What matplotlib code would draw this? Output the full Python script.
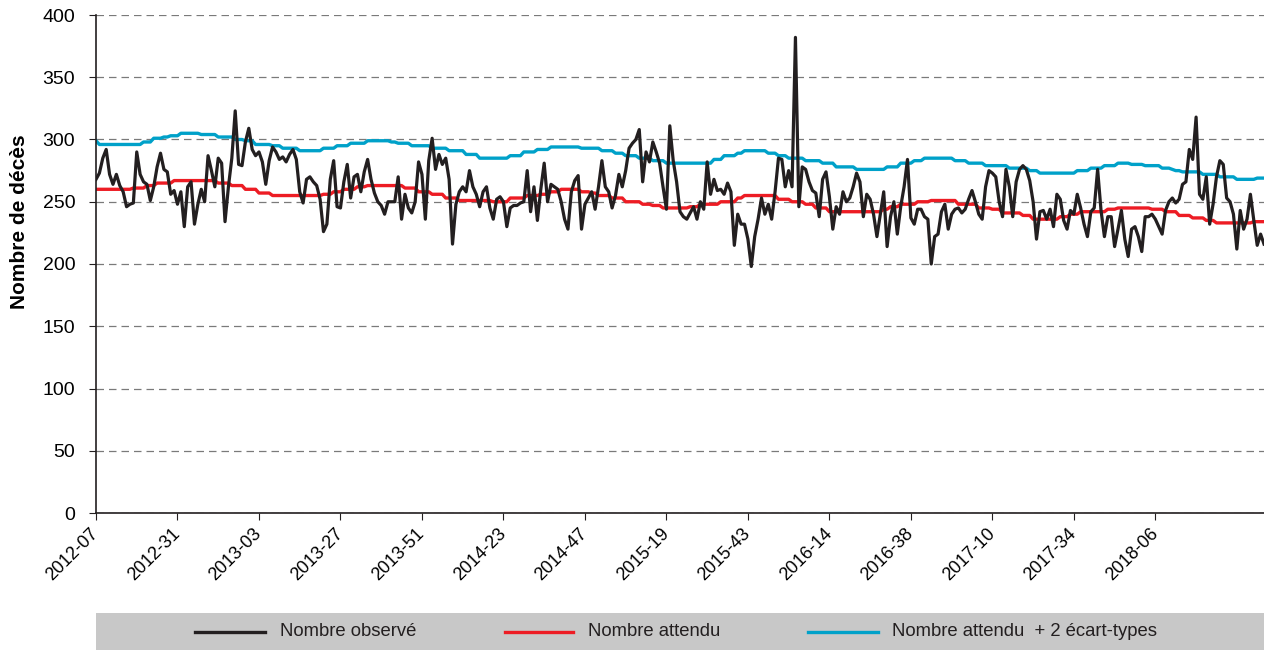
import numpy as np
import matplotlib
matplotlib.use("Agg")
import matplotlib.pyplot as plt
from matplotlib.lines import Line2D
from matplotlib.patches import Rectangle

plt.rcParams['font.family'] = ['Liberation Sans', 'DejaVu Sans']

tick_labels = ['2012-07', '2012-31', '2013-03', '2013-27', '2013-51', '2014-23', '2014-47',
               '2015-19', '2015-43', '2016-14', '2016-38', '2017-10', '2017-34', '2018-06']

observed = [
    268, 273, 285, 292, 272, 264, 272, 263, 258, 246,
    248, 249, 290, 272, 266, 264, 251, 262, 278, 289,
    276, 274, 256, 259, 248, 258, 230, 262, 266, 232,
    248, 260, 250, 287, 275, 262, 285, 281, 234, 262,
    285, 323, 280, 279, 298, 309, 292, 287, 290, 282,
    264, 283, 294, 290, 284, 286, 282, 288, 292, 284,
    258, 249, 268, 270, 266, 263, 252, 226, 232, 268,
    283, 246, 245, 266, 280, 253, 270, 272, 258, 274,
    284, 268, 257, 250, 247, 240, 250, 250, 250, 270,
    236, 256, 245, 241, 250, 282, 272, 236, 283, 301,
    276, 288, 280, 285, 268, 216, 248, 258, 262, 258,
    275, 262, 256, 246, 258, 262, 245, 236, 252, 254,
    250, 230, 245, 247, 247, 249, 250, 275, 242, 262,
    235, 260, 281, 250, 264, 262, 260, 250, 236, 228,
    258, 267, 271, 228, 248, 253, 258, 244, 262, 283,
    262, 258, 245, 255, 272, 262, 275, 293, 297, 300,
    308, 266, 290, 282, 298, 290, 281, 262, 244, 311,
    283, 266, 242, 238, 236, 241, 246, 236, 250, 244,
    282, 256, 268, 259, 260, 256, 265, 258, 215, 240,
    232, 232, 220, 198, 222, 236, 253, 240, 248, 236,
    258, 285, 284, 262, 275, 262, 382, 246, 278, 276,
    266, 259, 257, 238, 268, 274, 254, 228, 246, 240,
    258, 250, 253, 262, 273, 266, 238, 256, 252, 240,
    222, 240, 258, 214, 238, 250, 224, 246, 262, 284,
    237, 232, 244, 244, 238, 236, 200, 222, 224, 242,
    248, 228, 240, 244, 245, 241, 244, 252, 259, 250,
    240, 236, 262, 275, 273, 270, 250, 238, 276, 262,
    238, 266, 276, 279, 276, 267, 250, 220, 242, 243,
    236, 244, 230, 256, 252, 235, 228, 243, 240, 256,
    245, 232, 222, 242, 245, 276, 243, 222, 238, 238,
    214, 228, 243, 220, 206, 228, 230, 222, 210, 238,
    238, 240, 236, 230, 224, 243, 250, 253, 249, 252,
    264, 266, 292, 284, 318, 256, 252, 270, 232, 248,
    270, 283, 280, 253, 250, 240, 212, 243, 228, 236,
    256, 235, 215, 224, 216,
]

expected = [
    260, 260, 260, 260, 260, 260, 260, 260, 260, 260,
    260, 261, 261, 261, 261, 263, 263, 263, 265, 265,
    265, 265, 265, 267, 267, 267, 267, 267, 267, 267,
    267, 267, 267, 267, 267, 267, 265, 265, 265, 265,
    263, 263, 263, 263, 260, 260, 260, 260, 257, 257,
    257, 257, 255, 255, 255, 255, 255, 255, 255, 255,
    255, 255, 255, 255, 255, 255, 255, 256, 256, 256,
    258, 258, 258, 260, 260, 260, 260, 262, 262, 262,
    263, 263, 263, 263, 263, 263, 263, 263, 263, 263,
    263, 261, 261, 261, 261, 258, 258, 258, 258, 256,
    256, 256, 256, 253, 253, 253, 253, 251, 251, 251,
    251, 251, 251, 251, 251, 251, 251, 250, 250, 250,
    250, 250, 253, 253, 253, 253, 253, 255, 255, 255,
    255, 256, 256, 256, 258, 258, 258, 260, 260, 260,
    260, 260, 260, 258, 258, 258, 257, 257, 255, 255,
    255, 255, 253, 253, 253, 253, 250, 250, 250, 250,
    250, 248, 248, 248, 247, 247, 247, 245, 245, 245,
    245, 245, 245, 245, 245, 246, 246, 246, 248, 248,
    248, 248, 248, 248, 250, 250, 250, 250, 250, 253,
    253, 255, 255, 255, 255, 255, 255, 255, 255, 255,
    255, 252, 252, 252, 252, 250, 250, 250, 250, 248,
    248, 248, 245, 245, 245, 245, 242, 242, 242, 242,
    242, 242, 242, 242, 242, 242, 242, 242, 242, 242,
    242, 242, 244, 244, 246, 246, 246, 248, 248, 248,
    248, 248, 250, 250, 250, 250, 251, 251, 251, 251,
    251, 251, 251, 251, 248, 248, 248, 248, 248, 248,
    245, 245, 245, 245, 244, 244, 244, 241, 241, 241,
    241, 241, 241, 239, 239, 239, 236, 236, 236, 236,
    236, 236, 236, 236, 238, 238, 238, 240, 240, 240,
    242, 242, 242, 242, 242, 242, 242, 242, 244, 244,
    244, 245, 245, 245, 245, 245, 245, 245, 245, 245,
    245, 244, 244, 244, 244, 242, 242, 242, 242, 239,
    239, 239, 239, 237, 237, 237, 237, 235, 235, 235,
    233, 233, 233, 233, 233, 233, 233, 233, 233, 233,
    233, 234, 234, 234, 234,
]

plus_2sd = [
    299, 296, 296, 296, 296, 296, 296, 296, 296, 296,
    296, 296, 296, 296, 298, 298, 298, 301, 301, 301,
    302, 302, 303, 303, 303, 305, 305, 305, 305, 305,
    305, 304, 304, 304, 304, 304, 302, 302, 302, 302,
    302, 300, 300, 300, 299, 299, 299, 296, 296, 296,
    296, 296, 295, 295, 295, 293, 293, 293, 293, 293,
    291, 291, 291, 291, 291, 291, 291, 293, 293, 293,
    293, 295, 295, 295, 295, 297, 297, 297, 297, 297,
    299, 299, 299, 299, 299, 299, 299, 298, 298, 297,
    297, 297, 297, 295, 295, 295, 295, 295, 295, 293,
    293, 293, 293, 293, 291, 291, 291, 291, 291, 288,
    288, 288, 288, 285, 285, 285, 285, 285, 285, 285,
    285, 285, 287, 287, 287, 287, 290, 290, 290, 290,
    292, 292, 292, 292, 294, 294, 294, 294, 294, 294,
    294, 294, 294, 293, 293, 293, 293, 293, 293, 291,
    291, 291, 291, 289, 289, 289, 287, 287, 287, 287,
    285, 285, 285, 285, 283, 283, 283, 283, 281, 281,
    281, 281, 281, 281, 281, 281, 281, 281, 281, 281,
    281, 281, 284, 284, 284, 287, 287, 287, 287, 289,
    289, 291, 291, 291, 291, 291, 291, 291, 289, 289,
    289, 287, 287, 287, 285, 285, 285, 285, 285, 283,
    283, 283, 283, 283, 281, 281, 281, 281, 278, 278,
    278, 278, 278, 278, 276, 276, 276, 276, 276, 276,
    276, 276, 276, 278, 278, 278, 278, 281, 281, 281,
    281, 283, 283, 283, 285, 285, 285, 285, 285, 285,
    285, 285, 285, 283, 283, 283, 283, 281, 281, 281,
    281, 281, 279, 279, 279, 279, 279, 279, 279, 277,
    277, 277, 277, 277, 277, 275, 275, 275, 273, 273,
    273, 273, 273, 273, 273, 273, 273, 273, 273, 275,
    275, 275, 275, 277, 277, 277, 277, 279, 279, 279,
    279, 281, 281, 281, 281, 280, 280, 280, 280, 279,
    279, 279, 279, 279, 277, 277, 277, 276, 275, 275,
    274, 274, 274, 274, 274, 274, 272, 272, 272, 272,
    272, 270, 270, 270, 270, 270, 268, 268, 268, 268,
    268, 268, 269, 269, 269,
]

legend_labels = ['Nombre observé', 'Nombre attendu', 'Nombre attendu  + 2 écart-types']
y_label = 'Nombre de décès'

BLACK = '#231f20'
RED = '#ed1c24'
BLUE = '#00a1c9'

W, H = 1264, 650
fig = plt.figure(figsize=(W / 100, H / 100), dpi=100)
ax = fig.add_axes([96 / W, 137 / H, 1168 / W, 498 / H])

x = np.arange(len(observed))
ax.plot(x, plus_2sd, color=BLUE, lw=2.4, zorder=2)
ax.plot(x, expected, color=RED, lw=2.4, zorder=2)
ax.plot(x, observed, color=BLACK, lw=2.3, zorder=3)

ax.set_xlim(0, len(observed) - 1)
ax.set_ylim(0, 400)
ax.set_yticks(np.arange(0, 401, 50))
ax.set_xticks(np.arange(len(tick_labels)) * 24)
ax.set_xticklabels(tick_labels, rotation=45, ha='right', va='center',
                   rotation_mode='anchor', fontsize=13)
ax.tick_params(axis='y', labelsize=14, length=5, pad=10, color=BLACK)
ax.tick_params(axis='x', length=5, pad=8, color=BLACK)
ax.grid(axis='y', color='#7a7a7a', linestyle=(0, (6, 4)), linewidth=0.9)
ax.set_axisbelow(True)
for s in ('top', 'right'):
    ax.spines[s].set_visible(False)
for s in ('left', 'bottom'):
    ax.spines[s].set_color(BLACK)
    ax.spines[s].set_linewidth(1.2)
ax.set_ylabel(y_label, fontsize=15, fontweight='bold')
ax.yaxis.set_label_coords(-0.0575, 0.585)

# legend band
fig.add_artist(Rectangle((96 / W, 0), 1168 / W, 37 / H, transform=fig.transFigure,
                         facecolor='#c8c8c8', edgecolor='none', zorder=0))
ly = 18 / H
segs = [(195, 265, 280), (505, 573, 588), (808, 878, 892)]
for (x0, x1, xt), col, lab in zip(segs, [BLACK, RED, BLUE], legend_labels):
    fig.add_artist(Line2D([x0 / W, x1 / W], [ly, ly], transform=fig.transFigure,
                          color=col, lw=2.4))
    fig.text(xt / W, ly, lab, ha='left', va='center', fontsize=13.3, color=BLACK)

fig.savefig('out.png', dpi=100)
